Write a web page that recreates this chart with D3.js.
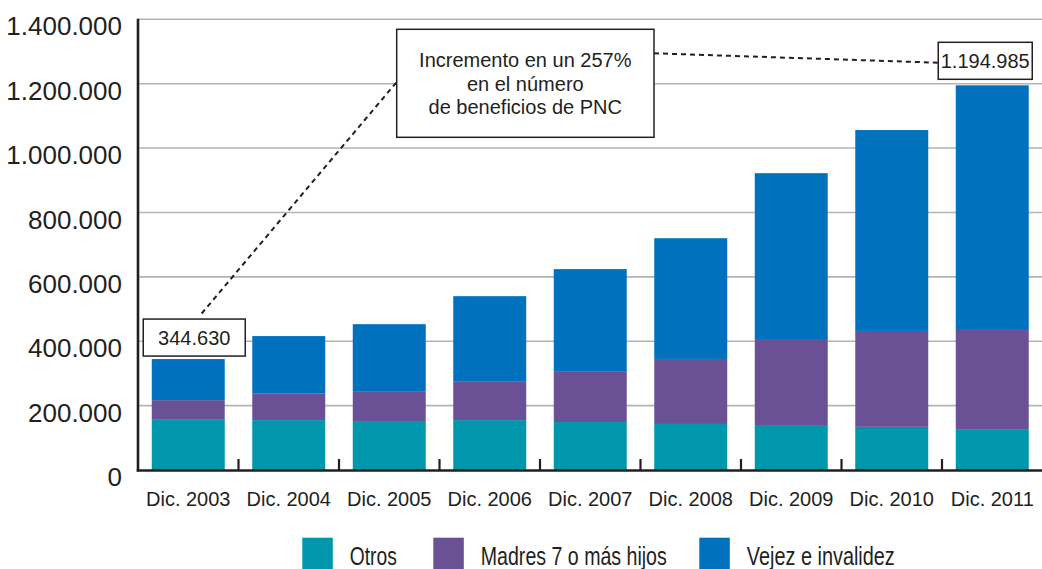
<!DOCTYPE html>
<html>
<head>
<meta charset="utf-8">
<script src="https://cdn.jsdelivr.net/npm/d3@7"></script>
<style>
  html, body { margin: 0; padding: 0; background: #fff; }
  svg { display: block; }
  text { font-family: "Liberation Sans", Arial, sans-serif; fill: #231f20; }
</style>
</head>
<body>
<svg id="chart" width="1042" height="569"></svg>
<script>
// ---- Data ----
const categories = ["Dic. 2003","Dic. 2004","Dic. 2005","Dic. 2006","Dic. 2007","Dic. 2008","Dic. 2009","Dic. 2010","Dic. 2011"];
const seriesNames = ["Otros", "Madres 7 o más hijos", "Vejez e invalidez"];
const otros  = [158000, 155000, 152000, 155000, 149000, 143000, 137000, 134000, 127000];
const madres = [ 59000,  82000,  93000, 119000, 156000, 202000, 267000, 298000, 311000];
const vejez  = [127630, 179000, 208000, 266000, 319000, 375000, 518000, 624000, 756985];
const yTicks = [0, 200000, 400000, 600000, 800000, 1000000, 1200000, 1400000];
const annotationLines = ["Incremento en un 257%", "en el número", "de beneficios de PNC"];
const colors = ["#0097ad", "#6a5196", "#0071bc"];

(function () {
const totals = categories.map((c, i) => otros[i] + madres[i] + vejez[i]);
const rows = categories.map((c, i) => ({cat: c, s0: otros[i], s1: madres[i], s2: vejez[i]}));

const loc = d3.formatLocale({decimal: ",", thousands: ".", grouping: [3], currency: ["", ""]});
const fmt = loc.format(",d");

const svg = d3.select("#chart");
const mLeft = 138, mRight = 1042.5, mTop = 19.3, mBottom = 470;

const x = d3.scaleBand().domain(categories).range([mLeft, mRight]).paddingInner(0.274).paddingOuter(0.137);
const y = d3.scaleLinear().domain([0, 1400000]).range([mBottom, mTop]);

// gridlines
svg.append("g").selectAll("line").data(yTicks.filter(d => d > 0)).join("line")
  .attr("x1", mLeft).attr("x2", 1042)
  .attr("y1", d => y(d)).attr("y2", d => y(d))
  .attr("stroke", "#b3b3b3").attr("stroke-width", 1.6);

// stacked bars
const stack = d3.stack().keys(["s0", "s1", "s2"]);
const stacked = stack(rows);
svg.append("g").selectAll("g").data(stacked).join("g")
  .attr("fill", (d, i) => colors[i])
  .selectAll("rect").data(d => d).join("rect")
  .attr("x", d => x(d.data.cat))
  .attr("width", x.bandwidth())
  .attr("y", d => y(d[1]))
  .attr("height", d => y(d[0]) - y(d[1]));

// y axis
const yAxis = d3.axisLeft(y).tickValues(yTicks).tickFormat(fmt).tickSize(0).tickPadding(16);
const gy = svg.append("g").attr("transform", `translate(${mLeft},0)`).call(yAxis);
gy.select(".domain").remove();
gy.selectAll("text").attr("font-size", 26).attr("dy", "0.6em")
  .style("font-family", '"Liberation Sans", Arial, sans-serif').attr("fill", "#231f20");

// x axis
const xAxis = d3.axisBottom(x).tickSize(0).tickPadding(22);
const gx = svg.append("g").attr("transform", `translate(0,${mBottom})`).call(xAxis);
gx.select(".domain").remove();
gx.selectAll("text").attr("font-size", 20)
  .style("font-family", '"Liberation Sans", Arial, sans-serif').attr("fill", "#231f20");

// axis lines
svg.append("line").attr("x1", mLeft).attr("x2", mLeft).attr("y1", mTop - 0.5).attr("y2", mBottom + 1.5)
  .attr("stroke", "#231f20").attr("stroke-width", 2.6);
svg.append("line").attr("x1", mLeft - 1.3).attr("x2", 1042).attr("y1", mBottom + 0.5).attr("y2", mBottom + 0.5)
  .attr("stroke", "#231f20").attr("stroke-width", 2.6);
// category separator ticks
const gap = (x.step() - x.bandwidth()) / 2;
svg.append("g").selectAll("line").data(categories.slice(1)).join("line")
  .attr("x1", d => x(d) - gap).attr("x2", d => x(d) - gap)
  .attr("y1", mBottom - 11).attr("y2", mBottom)
  .attr("stroke", "#231f20").attr("stroke-width", 2.2);

// annotations
const ann = svg.append("g");
const dash = "5,4";
const c0 = x(categories[0]) + x.bandwidth() / 2 + 6;
const b0 = y(totals[0]) - 3;
ann.append("line").attr("x1", 201.7).attr("y1", 313.5).attr("x2", 396.7).attr("y2", 82)
  .attr("stroke", "#231f20").attr("stroke-width", 2).attr("stroke-dasharray", dash);
ann.append("rect").attr("x", c0 - 51).attr("y", b0 - 37).attr("width", 102).attr("height", 37)
  .attr("fill", "#fff").attr("stroke", "#231f20").attr("stroke-width", 1.5);
ann.append("text").attr("x", c0).attr("y", b0 - 11.5).attr("text-anchor", "middle")
  .attr("font-size", 20).text(fmt(totals[0]));

const n = categories.length - 1;
const cN = x(categories[n]) + x.bandwidth() / 2 - 7;
const bN = y(totals[n]) - 6;
ann.append("line").attr("x1", 654).attr("y1", 53.3).attr("x2", cN - 47).attr("y2", 62.7)
  .attr("stroke", "#231f20").attr("stroke-width", 2).attr("stroke-dasharray", dash);
ann.append("rect").attr("x", cN - 47).attr("y", bN - 37).attr("width", 94).attr("height", 37)
  .attr("fill", "#fff").attr("stroke", "#231f20").attr("stroke-width", 1.5);
ann.append("text").attr("x", cN).attr("y", bN - 11.5).attr("text-anchor", "middle")
  .attr("font-size", 20).text(fmt(totals[n]));

ann.append("rect").attr("x", 396.7).attr("y", 29.3).attr("width", 257.3).attr("height", 108)
  .attr("fill", "#fff").attr("stroke", "#231f20").attr("stroke-width", 1.5);
ann.selectAll("text.ann").data(annotationLines).join("text").attr("class", "ann")
  .attr("x", 525.3).attr("y", (d, i) => 66.7 + i * 23.8).attr("text-anchor", "middle")
  .attr("font-size", 20).text(d => d);

// legend
const legendX = [302.3, 433.3, 699.3];
const legendW = [47, 186, 148];
const lg = svg.append("g").selectAll("g").data(seriesNames).join("g")
  .attr("transform", (d, i) => `translate(${legendX[i]},0)`);
lg.append("rect").attr("x", 0).attr("y", 537.7).attr("width", 30.5).attr("height", 32).attr("fill", (d, i) => colors[i]);
lg.append("text").attr("x", 47.5).attr("y", 564.5).attr("font-size", 25)
  .attr("textLength", (d, i) => legendW[i]).attr("lengthAdjust", "spacingAndGlyphs")
  .text(d => d);
})();
</script>
</body>
</html>
